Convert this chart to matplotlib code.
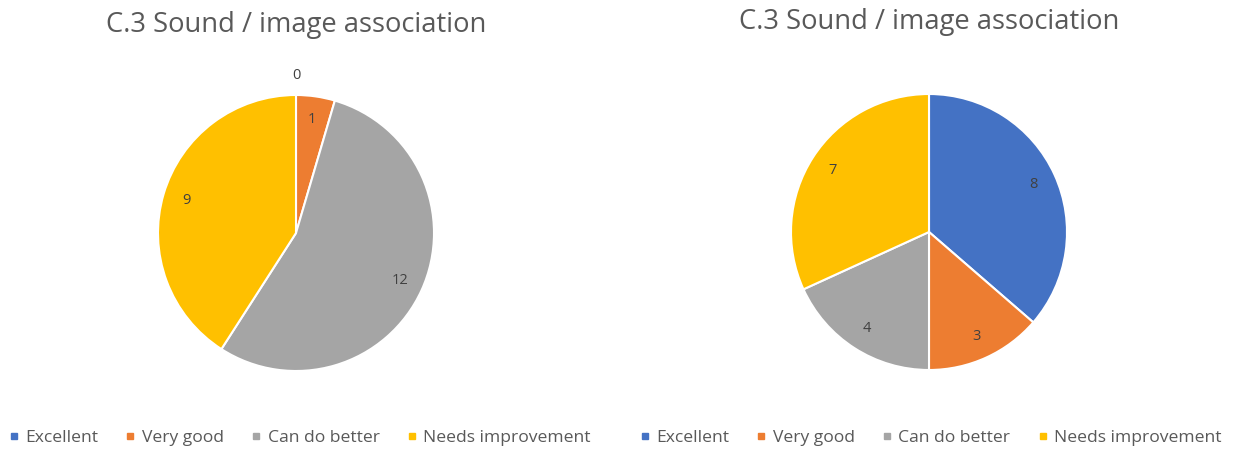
import numpy as np
import matplotlib.pyplot as plt
from matplotlib.lines import Line2D

plt.rcParams['font.family'] = ['Open Sans', 'DejaVu Sans']

categories = ["Excellent", "Very good", "Can do better", "Needs improvement"]
left_values = [0, 1, 12, 9]
right_values = [8, 3, 4, 7]
title = "C.3 Sound / image association"

colors = ["#4472C4", "#ED7D31", "#A5A5A5", "#FFC000"]
text_grey = "#595959"

W, H = 1234, 450
fig = plt.figure(figsize=(W / 100, H / 100), dpi=100)


def draw_pie(cx, cy, r, values):
    # axes placed in pixel terms so the pie radius maps onto 1.0
    ax = fig.add_axes([(cx - r) / W, (H - cy - r) / H, 2 * r / W, 2 * r / H])
    wedges, _ = ax.pie(values, colors=colors, startangle=90, counterclock=False,
                       radius=1.0, wedgeprops=dict(edgecolor="white", linewidth=1.5))
    for w, v in zip(wedges, values):
        mid = np.deg2rad((w.theta1 + w.theta2) / 2)
        # empty slices get their label just outside the rim
        d = 1.14 if v == 0 else 0.83
        ax.text(d * np.cos(mid), d * np.sin(mid), str(v), ha="center", va="center",
                fontsize=10.5, color="#404040")
    ax.set_xlim(-1, 1)
    ax.set_ylim(-1, 1)
    ax.set_aspect("equal")
    ax.axis("off")
    return ax


draw_pie(296, 233, 138, left_values)
draw_pie(929, 232, 138, right_values)

fig.text(296 / W, 1 - 25 / H, title, ha="center", va="center", fontsize=19.7, color=text_grey)
fig.text(929 / W, 1 - 22 / H, title, ha="center", va="center", fontsize=19.7, color=text_grey)

handles = [Line2D([], [], marker="s", linestyle="none", markersize=4.5,
                  markerfacecolor=c, markeredgecolor=c) for c in colors]
for cx in (300, 931):
    fig.legend(handles, categories, loc="center", bbox_to_anchor=(cx / W, 1 - 438 / H),
               ncol=4, frameon=False, fontsize=12.6, labelcolor=text_grey,
               handlelength=0.5, handletextpad=0.4, columnspacing=1.6)

fig.savefig("out.png", dpi=100, facecolor="white")
